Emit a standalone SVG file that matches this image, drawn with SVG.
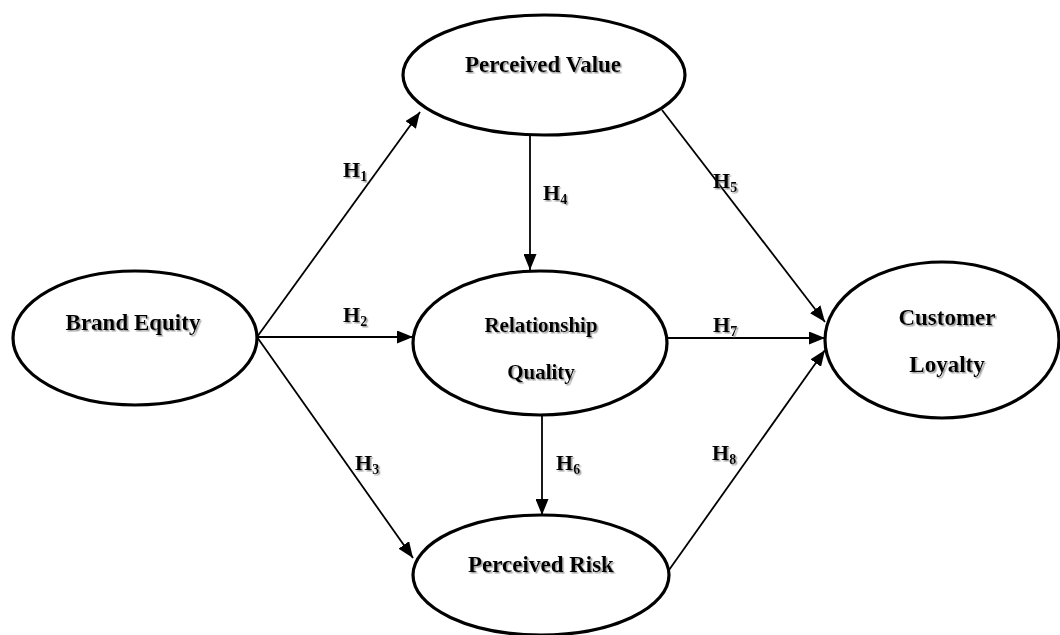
<svg xmlns="http://www.w3.org/2000/svg" width="1060" height="635" viewBox="0 0 1060 635">
<style>
.node ellipse{fill:#fff;stroke:#000;stroke-width:3.2}
.lbl{font-family:"Liberation Serif","Times New Roman",serif;font-weight:bold;fill:#000;text-anchor:middle;filter:url(#sh)}
.big{font-size:23px}
.mid{font-size:21px}
.h{font-family:"Liberation Serif","Times New Roman",serif;font-weight:bold;font-size:22px;fill:#000;filter:url(#sh)}
.sub{font-size:14px}
.edge{stroke:#000;stroke-width:1.8;fill:none;marker-end:url(#arr)}
</style>
<defs>
<marker id="arr" markerUnits="userSpaceOnUse" markerWidth="17" markerHeight="13" refX="16" refY="6.5" orient="auto">
<path d="M0,0 L16,6.5 L0,13 z" fill="#000"/>
</marker>
<filter id="sh" x="-10%" y="-20%" width="130%" height="150%">
<feDropShadow dx="1.5" dy="1.5" stdDeviation="0.6" flood-color="#888" flood-opacity="0.8"/>
</filter>
</defs>
<g id="connectors">
<line class="edge" x1="257" y1="337" x2="420" y2="112"/>
<line class="edge" x1="257" y1="337" x2="413" y2="337"/>
<line class="edge" x1="257" y1="337" x2="413" y2="558"/>
<line class="edge" x1="530" y1="135" x2="530" y2="270"/>
<line class="edge" x1="662" y1="110" x2="825" y2="322"/>
<line class="edge" x1="542" y1="415" x2="542" y2="515"/>
<line class="edge" x1="668" y1="338" x2="825" y2="338"/>
<line class="edge" x1="669" y1="570" x2="825" y2="350"/>
</g>
<g id="edge-labels">
<text class="h" x="343" y="177">H<tspan class="sub" dy="4">1</tspan></text>
<text class="h" x="343" y="322">H<tspan class="sub" dy="4">2</tspan></text>
<text class="h" x="355" y="470">H<tspan class="sub" dy="4">3</tspan></text>
<text class="h" x="543" y="200">H<tspan class="sub" dy="4">4</tspan></text>
<text class="h" x="713" y="188">H<tspan class="sub" dy="4">5</tspan></text>
<text class="h" x="556" y="470">H<tspan class="sub" dy="4">6</tspan></text>
<text class="h" x="713" y="332">H<tspan class="sub" dy="4">7</tspan></text>
<text class="h" x="712" y="460">H<tspan class="sub" dy="4">8</tspan></text>
</g>
<g id="perceived-value" class="node">
<ellipse cx="544" cy="75" rx="141" ry="60"/>
<text class="lbl big" x="543" y="72">Perceived Value</text>
</g>
<g id="brand-equity" class="node">
<ellipse cx="135" cy="338" rx="122" ry="67"/>
<text class="lbl big" x="133" y="330">Brand Equity</text>
</g>
<g id="relationship-quality" class="node">
<ellipse cx="540" cy="343" rx="127" ry="72"/>
<text class="lbl mid" x="541" y="332">Relationship</text>
<text class="lbl mid" x="541" y="379">Quality</text>
</g>
<g id="customer-loyalty" class="node">
<ellipse cx="942" cy="340" rx="117" ry="78"/>
<text class="lbl big" x="947" y="325">Customer</text>
<text class="lbl big" x="947" y="372">Loyalty</text>
</g>
<g id="perceived-risk" class="node">
<ellipse cx="541" cy="575" rx="128" ry="60"/>
<text class="lbl big" x="541" y="572">Perceived Risk</text>
</g>
</svg>
